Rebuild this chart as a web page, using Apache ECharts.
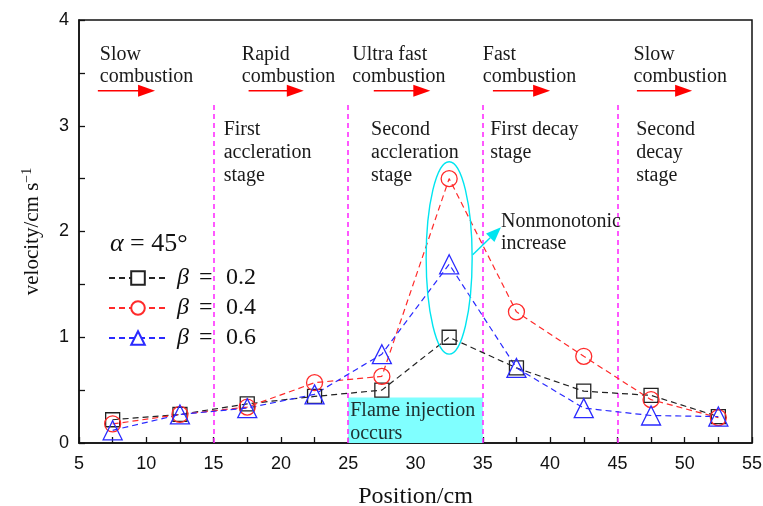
<!DOCTYPE html>
<html>
<head>
<meta charset="utf-8">
<script src="https://cdn.jsdelivr.net/npm/echarts@6/dist/echarts.min.js"></script>
<style>
  html, body { margin: 0; padding: 0; background: #fff; }
  #chart { width: 763px; height: 506px; }
</style>
</head>
<body>
<div id="chart"></div>
<script>
// Measurement positions along the duct (cm)
const positions = [7.5, 12.5, 17.5, 22.5, 27.5, 32.5, 37.5, 42.5, 47.5, 52.5];

// Flame velocity (cm/s) for each blockage ratio, alpha = 45 deg
const beta02 = [0.22, 0.27, 0.37, 0.44, 0.50, 1.00, 0.71, 0.49, 0.45, 0.25];
const beta04 = [0.18, 0.27, 0.34, 0.57, 0.63, 2.50, 1.24, 0.82, 0.41, 0.24];
const beta06 = [0.12, 0.27, 0.33, 0.46, 0.84, 1.69, 0.71, 0.33, 0.26, 0.25];

const seriesNames = ['β = 0.2', 'β = 0.4', 'β = 0.6'];

// Stage boundaries (cm)
const stageBounds = [15, 25, 35, 45];

// Combustion regime headers: [x, y, text]
const regimeLabels = [
  [6.55, 3.78, 'Slow\ncombustion'],
  [17.1, 3.78, 'Rapid\ncombustion'],
  [25.3, 3.78, 'Ultra fast\ncombustion'],
  [35.0, 3.78, 'Fast\ncombustion'],
  [46.2, 3.78, 'Slow\ncombustion']
];
// Regime arrows: [xStart, xEnd, y]
const regimeArrows = [
  [6.4, 10.65, 3.33],
  [17.6, 21.7, 3.33],
  [26.9, 31.1, 3.33],
  [35.75, 40.0, 3.33],
  [46.45, 50.55, 3.33]
];
// Stage descriptions: [x, y, text]
const stageLabels = [
  [15.75, 3.07, 'First\naccleration\nstage'],
  [26.7, 3.07, 'Second\naccleration\nstage'],
  [35.55, 3.07, 'First decay\nstage'],
  [46.4, 3.07, 'Second\ndecay\nstage']
];

(function () {
const serifFont = '"Liberation Serif", "Times New Roman", serif';
const sansFont = '"Liberation Sans", Arial, sans-serif';

function pairs(ys) { return positions.map((x, i) => [x, ys[i]]); }

const colors = ['#222222', '#ff2a2a', '#2a2aff'];
const symbols = ['rect', 'circle', 'triangle'];
const symbolSizes = [14, 16, 19];
const values = [beta02, beta04, beta06];

const series = values.map((ys, i) => ({
  name: seriesNames[i],
  type: 'line',
  data: pairs(ys),
  symbol: symbols[i],
  symbolSize: symbolSizes[i],
  showAllSymbol: true,
  z: 5,
  lineStyle: { color: colors[i], width: 1.2, type: [6, 4] },
  itemStyle: { color: 'rgba(255,255,255,0)', borderColor: colors[i], borderWidth: 1.3 },
  emphasis: { disabled: true }
}));

// Stage boundaries and the flame-injection zone hang off the first series
series[0].markLine = {
  silent: true,
  symbol: ['none', 'none'],
  label: { show: false },
  lineStyle: { color: '#ff22ff', width: 1.5, type: [5, 4] },
  data: stageBounds.map(x => [{ coord: [x, 0] }, { coord: [x, 3.22] }])
};
series[0].markArea = {
  silent: true,
  itemStyle: { color: '#80ffff' },
  label: {
    show: true,
    position: 'insideTopLeft',
    distance: 2,
    formatter: 'Flame injection\noccurs',
    fontFamily: serifFont,
    fontSize: 20,
    lineHeight: 23,
    color: '#1e2e2e'
  },
  data: [[{ coord: [25, 0] }, { coord: [35, 0.43] }]]
};

const option = {
  animation: false,
  backgroundColor: '#fff',
  grid: {
    left: 79, right: 11, top: 20, bottom: 63,
    outerBoundsMode: 'none', containLabel: false,
    show: true, borderColor: '#111', borderWidth: 1.5, backgroundColor: 'transparent'
  },
  legend: {
    orient: 'vertical',
    left: 103,
    top: 261,
    itemWidth: 58,
    itemHeight: 17,
    itemGap: 6,
    selectedMode: false,
    data: seriesNames,
    itemStyle: { color: '#fff' },
    formatter: name => '{b|β}{e|=}{t|' + name.slice(4) + '}',
    textStyle: {
      rich: {
        b: { fontFamily: serifFont, fontStyle: 'italic', fontSize: 24, color: '#111', width: 22, padding: [0, 0, 0, 5] },
        e: { fontFamily: serifFont, fontSize: 24, color: '#111', width: 27, padding: [0, 0, 0, 0] },
        t: { fontFamily: serifFont, fontSize: 24, color: '#111' }
      }
    }
  },
  xAxis: {
    type: 'value',
    min: 5, max: 55, interval: 5,
    name: 'Position/cm',
    nameLocation: 'middle',
    nameGap: 42,
    nameTextStyle: { fontFamily: serifFont, fontSize: 24, color: '#111' },
    axisLine: { show: true, onZero: false, lineStyle: { color: '#111', width: 1.5 } },
    axisTick: { show: true, inside: true, length: 6, lineStyle: { color: '#111', width: 1.3 } },
    minorTick: { show: true, splitNumber: 2, length: 6, lineStyle: { color: '#111', width: 1.3 } },
    splitLine: { show: false },
    axisLabel: { fontFamily: sansFont, fontSize: 18, color: '#111', margin: 12 }
  },
  yAxis: {
    type: 'value',
    min: 0, max: 4, interval: 1,
    name: '{n|velocity/cm s}{s|−1}',
    nameLocation: 'middle',
    nameGap: 35,
    nameRotate: 90,
    nameTextStyle: {
      rich: {
        n: { fontFamily: serifFont, fontSize: 21, color: '#111' },
        s: { fontFamily: serifFont, fontSize: 14, color: '#111', verticalAlign: 'top', padding: [0, 0, 10, 0] }
      }
    },
    axisLine: { show: true, lineStyle: { color: '#111', width: 1.5 } },
    axisTick: { show: true, inside: true, length: 6, lineStyle: { color: '#111', width: 1.3 } },
    minorTick: { show: true, splitNumber: 2, length: 6, lineStyle: { color: '#111', width: 1.3 } },
    splitLine: { show: false },
    axisLabel: { fontFamily: sansFont, fontSize: 18, color: '#111', margin: 10 }
  },
  series: series
};

const chart = echarts.init(document.getElementById('chart'), null, { renderer: 'canvas' });
chart.setOption(option);

// Annotations placed in data coordinates
function toPx(x, y) { return chart.convertToPixel({ gridIndex: 0 }, [x, y]); }

const graphics = [];
const textStyleBase = { fontFamily: serifFont, fontSize: 20, lineHeight: 23, fill: '#1a1a1a' };

regimeLabels.forEach(([x, y, t]) => {
  const p = toPx(x, y);
  graphics.push({ type: 'text', x: p[0], y: p[1], z: 10, style: Object.assign({ text: t }, textStyleBase, { lineHeight: 22 }) });
});
stageLabels.forEach(([x, y, t]) => {
  const p = toPx(x, y);
  graphics.push({ type: 'text', x: p[0], y: p[1], z: 10, style: Object.assign({ text: t }, textStyleBase) });
});
regimeArrows.forEach(([x0, x1, y]) => {
  const a = toPx(x0, y), b = toPx(x1, y);
  const head = 17, half = 6;
  graphics.push({ type: 'line', z: 10, shape: { x1: a[0], y1: a[1], x2: b[0] - head + 1, y2: b[1] }, style: { stroke: '#ff0000', lineWidth: 1.5 } });
  graphics.push({ type: 'polygon', z: 10, shape: { points: [[b[0], b[1]], [b[0] - head, b[1] - half], [b[0] - head, b[1] + half]] }, style: { fill: '#ff0000' } });
});

// Peak highlight around the 32.5 cm readings
const peakX = positions[5];
const pTop = toPx(peakX, 2.66), pBottom = toPx(peakX, 0.84);
graphics.push({
  type: 'ellipse', z: 8,
  shape: { cx: pTop[0], cy: (pTop[1] + pBottom[1]) / 2, rx: 23, ry: (pBottom[1] - pTop[1]) / 2 },
  style: { fill: 'none', stroke: '#00e5f0', lineWidth: 1.4 }
});
const a0 = toPx(34.25, 1.78), a1 = toPx(36.35, 2.04);
const ang = Math.atan2(a1[1] - a0[1], a1[0] - a0[0]);
const hl = 15, hw = 6;
const base = [a1[0] - hl * Math.cos(ang), a1[1] - hl * Math.sin(ang)];
graphics.push({ type: 'line', z: 10, shape: { x1: a0[0], y1: a0[1], x2: base[0], y2: base[1] }, style: { stroke: '#00e5f0', lineWidth: 1.5 } });
graphics.push({
  type: 'polygon', z: 10,
  shape: { points: [a1, [base[0] + hw * Math.sin(ang), base[1] - hw * Math.cos(ang)], [base[0] - hw * Math.sin(ang), base[1] + hw * Math.cos(ang)]] },
  style: { fill: '#00e5f0' }
});
const nm = toPx(36.35, 2.2);
graphics.push({ type: 'text', x: nm[0], y: nm[1], z: 10, style: Object.assign({ text: 'Nonmonotonic\nincrease' }, textStyleBase, { lineHeight: 22 }) });

// Angle label above the legend
const al = toPx(7.3, 2.0);
graphics.push({
  type: 'text', x: al[0], y: al[1], z: 10,
  style: { text: '{a|α} = 45°', fontFamily: serifFont, fontSize: 26, fill: '#111', rich: { a: { fontFamily: serifFont, fontStyle: 'italic', fontSize: 26, fill: '#111' } } }
});

chart.setOption({ graphic: graphics });
})();
</script>
</body>
</html>
